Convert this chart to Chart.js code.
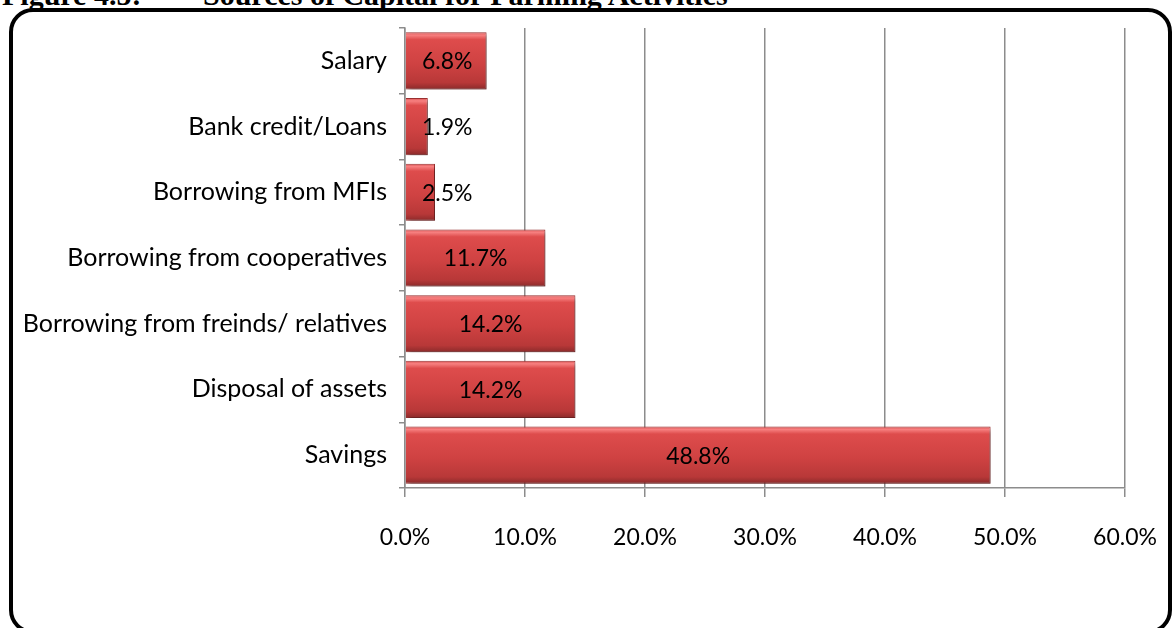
<!DOCTYPE html>
<html lang="en">
<head>
    <meta charset="UTF-8">
    <title>Sources of Capital for Farming Activities</title>
    <script src="https://cdn.jsdelivr.net/npm/chart.js"></script>
    <style>
        body {
            margin: 0;
            background-color: #ffffff;
            width: 1176px;
            height: 628px;
            overflow: hidden;
            position: relative;
        }
        #frame {
            position: absolute;
            left: 9px;
            top: 8px;
            width: 1163px;
            height: 626px;
            box-sizing: border-box;
            border: 4px solid #000;
            border-radius: 24px;
        }
        .title {
            position: absolute;
            top: -20px;
            font-family: "Liberation Serif", serif;
            font-weight: bold;
            font-size: 30px;
            line-height: 30px;
            white-space: nowrap;
            color: #000;
        }
        #chartCanvas {
            position: absolute;
            left: 0;
            top: 0;
        }
    </style>
</head>
<body>

    <div id="frame"></div>
    <div class="title" style="left: 2px;">Figure 4.5:</div>
    <div class="title" style="left: 203px;">Sources of Capital for Farming Activities</div>
    <canvas id="chartCanvas" width="1176" height="628"></canvas>

    <script>
        const categories = [
            'Salary',
            'Bank credit/Loans',
            'Borrowing from MFIs',
            'Borrowing from cooperatives',
            'Borrowing from freinds/ relatives',
            'Disposal of assets',
            'Savings'
        ];
        const shares = [6.8, 1.9, 2.5, 11.7, 14.2, 14.2, 48.8]; // percent
        const xTicks = [0, 10, 20, 30, 40, 50, 60];

        const BAR_PCT = 0.87;
        const GRID_GREY = '#8c8c8c';
        const FONT = '"Lato", "Open Sans", sans-serif';

        // red bevel-like gradient for each bar, built from the category scale
        function barFill(ctx) {
            const chart = ctx.chart;
            const yScale = chart.scales.y;
            if (!yScale || !chart.chartArea || ctx.dataIndex === undefined) return '#cc4040';
            const cy = yScale.getPixelForValue(ctx.dataIndex);
            const half = (chart.chartArea.bottom - chart.chartArea.top) / categories.length * BAR_PCT / 2;
            const g = chart.ctx.createLinearGradient(0, cy - half, 0, cy + half);
            g.addColorStop(0, '#d95050');
            g.addColorStop(0.05, '#f78080');
            g.addColorStop(0.13, '#de4c4c');
            g.addColorStop(0.55, '#cf4242');
            g.addColorStop(0.88, '#b83838');
            g.addColorStop(1, '#8a2a2a');
            return g;
        }

        const barShadow = {
            id: 'barShadow',
            beforeDatasetsDraw(chart) {
                const c = chart.ctx;
                c.save();
                c.shadowColor = 'rgba(0, 0, 0, 0.35)';
                c.shadowBlur = 4;
                c.shadowOffsetX = 3;
                c.shadowOffsetY = 3;
            },
            afterDatasetsDraw(chart) {
                chart.ctx.restore();
            }
        };

        const barLabels = {
            id: 'barLabels',
            afterDraw(chart) {
                const c = chart.ctx;
                const meta = chart.getDatasetMeta(0);
                const left = chart.scales.x.left;
                c.save();
                c.font = '23px ' + FONT;
                c.fillStyle = '#000';
                c.textAlign = 'center';
                c.textBaseline = 'middle';
                meta.data.forEach((bar, i) => {
                    const txt = shares[i].toFixed(1) + '%';
                    const w = c.measureText(txt).width;
                    const x = Math.max((bar.base + bar.x) / 2, left + 17 + w / 2);
                    c.fillText(txt, x, bar.y + 1);
                });
                c.restore();
            }
        };

        new Chart(document.getElementById('chartCanvas'), {
            type: 'bar',
            data: {
                labels: categories,
                datasets: [{
                    data: shares,
                    backgroundColor: barFill,
                    borderColor: '#9c3030',
                    borderWidth: 1,
                    categoryPercentage: 1,
                    barPercentage: BAR_PCT
                }]
            },
            options: {
                indexAxis: 'y',
                responsive: false,
                animation: false,
                layout: {
                    padding: { top: 28, right: 51, bottom: 0, left: 0 }
                },
                plugins: {
                    legend: { display: false },
                    tooltip: { enabled: false }
                },
                scales: {
                    x: {
                        min: 0,
                        max: 60,
                        afterBuildTicks(scale) {
                            scale.ticks = xTicks.map(v => ({ value: v }));
                        },
                        afterFit(scale) {
                            scale.height = 140;
                            scale.paddingLeft = 0;
                            scale.paddingRight = 0;
                        },
                        grid: {
                            color: GRID_GREY,
                            lineWidth: 1.5,
                            tickLength: 9
                        },
                        border: { color: GRID_GREY, width: 1.5 },
                        ticks: {
                            color: '#000',
                            padding: 27,
                            maxRotation: 0,
                            font: { family: FONT, size: 23 },
                            callback: v => Number(v).toFixed(1) + '%'
                        }
                    },
                    y: {
                        afterFit(scale) {
                            scale.width = 405;
                        },
                        grid: {
                            drawOnChartArea: false,
                            color: GRID_GREY,
                            lineWidth: 1.5,
                            tickLength: 6,
                            offset: true
                        },
                        border: { color: GRID_GREY, width: 1.5 },
                        ticks: {
                            color: '#000',
                            padding: 12,
                            font: { family: FONT, size: 25 }
                        }
                    }
                }
            },
            plugins: [barShadow, barLabels]
        });
    </script>
</body>
</html>
